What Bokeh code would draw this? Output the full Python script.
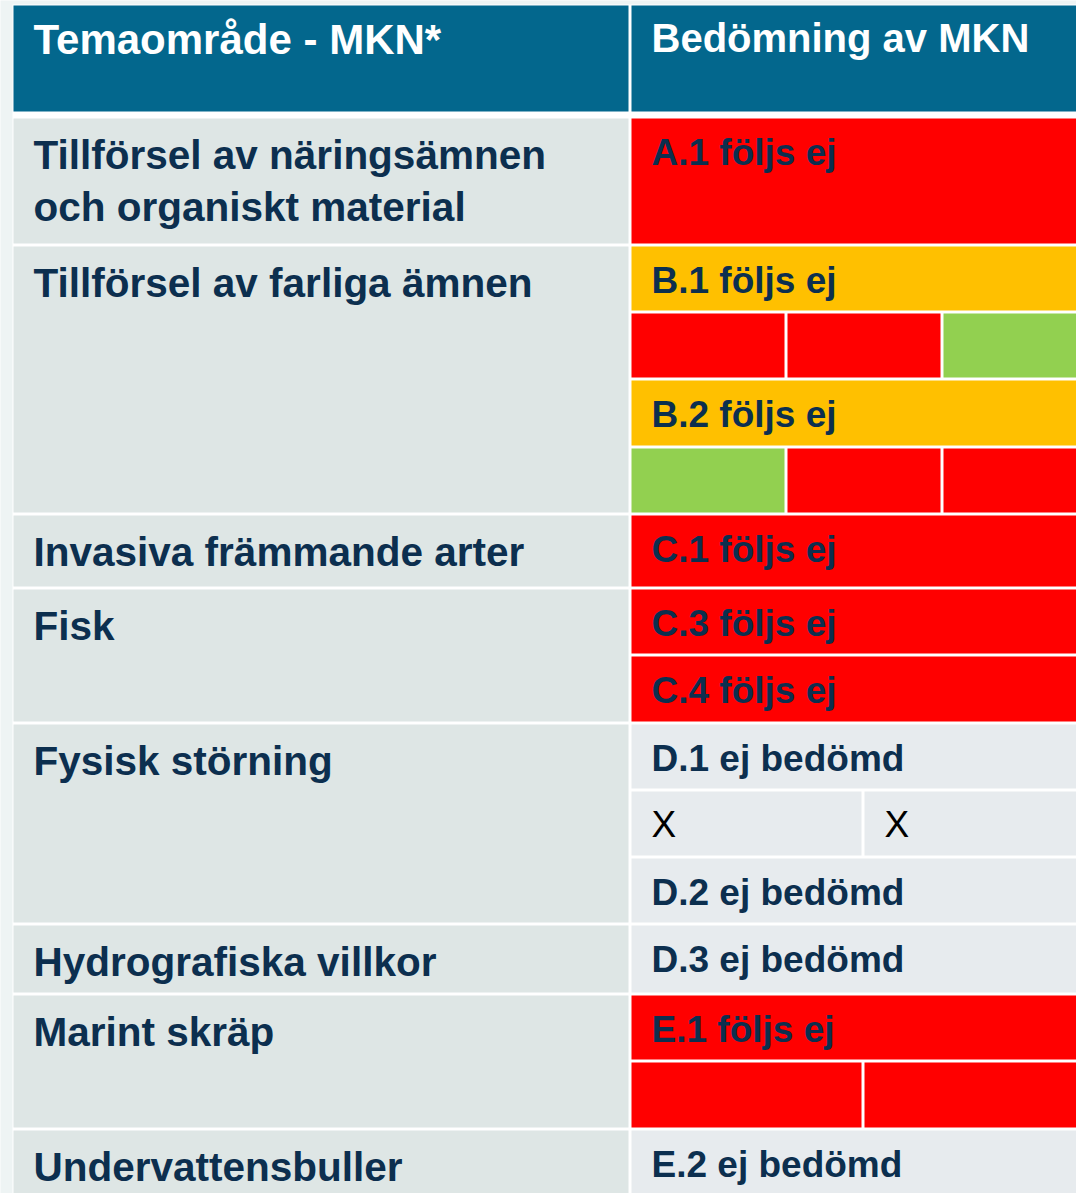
from bokeh.plotting import figure
from bokeh.models import Range1d, ColumnDataSource
from bokeh.embed import file_html
from bokeh.resources import INLINE
from bokeh.core.properties import value

# ---------------- data ----------------
header = ["Temaområde - MKN*", "Bedömning av MKN"]
themes = [
    "Tillförsel av näringsämnen\noch organiskt material",
    "Tillförsel av farliga ämnen",
    "Invasiva främmande arter",
    "Fisk",
    "Fysisk störning",
    "Hydrografiska villkor",
    "Marint skräp",
    "Undervattensbuller",
]
# assessment sub-rows: theme index, label, cell statuses, cell marks
sub_theme = [0, 1, 1, 1, 1, 2, 3, 3, 4, 4, 4, 5, 6, 6, 7]
sub_text = ["A.1 följs ej", "B.1 följs ej", "", "B.2 följs ej", "",
            "C.1 följs ej", "C.3 följs ej", "C.4 följs ej",
            "D.1 ej bedömd", "", "D.2 ej bedömd", "D.3 ej bedömd",
            "E.1 följs ej", "", "E.2 ej bedömd"]
sub_cells = [["red"], ["yellow"], ["red", "red", "green"], ["yellow"], ["green", "red", "red"],
             ["red"], ["red"], ["red"],
             ["gray"], ["gray", "gray"], ["gray"], ["gray"],
             ["red"], ["red", "red"], ["gray"]]
sub_marks = [[""], [""], ["", "", ""], [""], ["", "", ""],
             [""], [""], [""],
             [""], ["X", "X"], [""], [""],
             [""], ["", ""], [""]]

# ---------------- layout / style ----------------
status_color = {"red": "#FF0000", "yellow": "#FFC000", "green": "#92D050", "gray": "#E7EBEE"}
HEADER_BLUE = "#03678D"
LEFT_BG = "#DEE6E5"
OUTER_BG = "#EEF4F4"
TEXT_DARK = "#0C2F4F"
FONT = "Liberation Sans"
BASE_FIX = 0.37  # bokeh draws 'alphabetic' text lower by about this many em

TABLE_L, COL_SPLIT, RIGHT_L, RIGHT_R = 13, 628, 631, 1110
HEADER_T, HEADER_B = 5, 111
FIRST_T, GAP = 118, 3
sub_heights = [125, 64, 64, 65, 64, 71, 64, 65, 64, 64, 64, 67, 64, 65, 90]
split_width = {1: None, 2: 230, 3: 153}

W, H = 1076, 1193
p = figure(width=W, height=H, x_range=Range1d(0, W), y_range=Range1d(H, 0),
           output_backend="svg", toolbar_location=None, min_border=0,
           x_axis_type=None, y_axis_type=None)
p.grid.visible = False
p.outline_line_color = None
p.background_fill_color = OUTER_BG
p.border_fill_color = OUTER_BG


def by(y, fs):
    return y - BASE_FIX * fs


# white base of table
p.quad(left=[TABLE_L - 1], right=[RIGHT_R], top=[HEADER_T - 1], bottom=[1300],
       fill_color="white", line_color=None)

# header
p.quad(left=[TABLE_L, RIGHT_L], right=[COL_SPLIT, RIGHT_R], top=[HEADER_T, HEADER_T],
       bottom=[HEADER_B, HEADER_B], fill_color=HEADER_BLUE, line_color=None)
p.text(x=[33], y=[by(55, 42)], text=header[:1], text_color="white",
       text_font=value(FONT), text_font_style="bold", text_font_size="42px",
       text_baseline="alphabetic", text_align="left")
p.text(x=[651], y=[by(52, 40)], text=header[1:], text_color="white",
       text_font=value(FONT), text_font_style="bold", text_font_size="40px",
       text_baseline="alphabetic", text_align="left")

# sub-row positions
tops, bottoms = [], []
t = FIRST_T
for h in sub_heights:
    tops.append(t)
    bottoms.append(t + h)
    t += h + GAP

# left theme cells
lt, lb, lx, ly, ltxt = [], [], [], [], []
for i, name in enumerate(themes):
    idx = [k for k, th in enumerate(sub_theme) if th == i]
    top = tops[idx[0]]
    bot = bottoms[idx[-1]]
    lt.append(top)
    lb.append(bot)
    for j, line in enumerate(name.split("\n")):
        lx.append(33)
        ly.append(by(top + 51 + j * 52, 40.5))
        ltxt.append(line)
p.quad(left=[TABLE_L] * len(lt), right=[COL_SPLIT] * len(lt), top=lt, bottom=lb,
       fill_color=LEFT_BG, line_color=None)
p.text(x=lx, y=ly, text=ltxt, text_color=TEXT_DARK, text_font=value(FONT),
       text_font_style="bold", text_font_size="40.5px", text_baseline="alphabetic")

# right assessment cells
cl, cr, ct, cb, cc = [], [], [], [], []
mx, my, mt = [], [], []
tx, ty, tt = [], [], []
for k, cells in enumerate(sub_cells):
    n = len(cells)
    w = split_width[n]
    for j, st in enumerate(cells):
        left = RIGHT_L + (j * (w + GAP) if w else 0)
        right = RIGHT_R if (j == n - 1) else left + w
        cl.append(left)
        cr.append(right)
        ct.append(tops[k])
        cb.append(bottoms[k])
        cc.append(status_color[st])
        if sub_marks[k][j]:
            mx.append(left + 20)
            my.append(by(tops[k] + 47, 37))
            mt.append(sub_marks[k][j])
    if sub_text[k]:
        tx.append(651)
        ty.append(by(tops[k] + 48, 37))
        tt.append(sub_text[k])
src = ColumnDataSource(dict(left=cl, right=cr, top=ct, bottom=cb, color=cc))
p.quad(left="left", right="right", top="top", bottom="bottom", fill_color="color",
       line_color=None, source=src)
p.text(x=tx, y=ty, text=tt, text_color=TEXT_DARK, text_font=value(FONT),
       text_font_style="bold", text_font_size="37px", text_baseline="alphabetic")
p.text(x=mx, y=my, text=mt, text_color="black", text_font=value(FONT),
       text_font_size="37px", text_baseline="alphabetic")

open("out.html", "w").write(file_html(p, INLINE))
